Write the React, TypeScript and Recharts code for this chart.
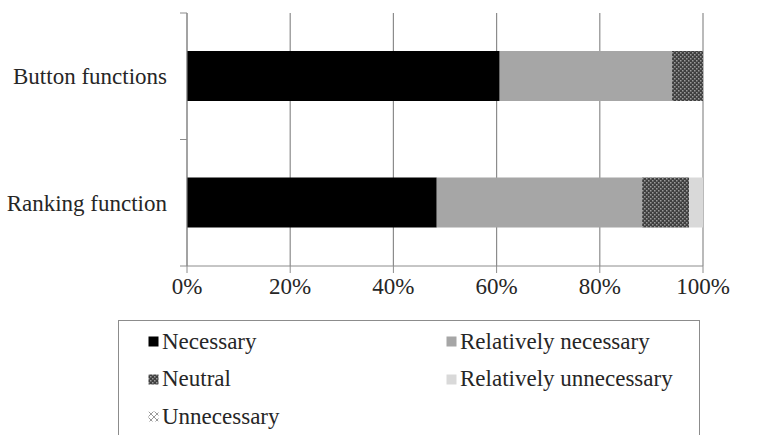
import { Bar, BarChart, CartesianGrid, XAxis, YAxis } from 'recharts';

const categories = ['Button functions', 'Ranking function'];
const necessary = [60.6, 48.4];
const relativelyNecessary = [33.4, 39.8];
const neutral = [6.0, 9.1];
const relativelyUnnecessary = [0, 2.7];
const unnecessary = [0, 0];
const xTicks = [0, 20, 40, 60, 80, 100];

const series = [
  { key: 'necessary', name: 'Necessary', values: necessary, fill: '#000000' },
  { key: 'relNec', name: 'Relatively necessary', values: relativelyNecessary, fill: '#a6a6a6' },
  { key: 'neutral', name: 'Neutral', values: neutral, fill: 'url(#neutralPat)' },
  { key: 'relUnnec', name: 'Relatively unnecessary', values: relativelyUnnecessary, fill: '#d9d9d9' },
  { key: 'unnec', name: 'Unnecessary', values: unnecessary, fill: 'url(#unnecPat)' },
];

const data = categories.map((name, i) => {
  const row: Record<string, string | number> = { name };
  series.forEach((s) => {
    row[s.key] = s.values[i];
  });
  return row;
});

const FONT = "Tinos, 'Liberation Serif', 'Times New Roman', 'Noto Serif', 'DejaVu Serif', serif";
const TEXT = '#262626';
const LINE = '#8c8c8c';

const W = 757;
const H = 435;
const MARGIN = { top: 13, right: 54, left: 0, bottom: 139 };
const X_AXIS_H = 30;
const LABEL_GAP = 20;
const BAND = (H - MARGIN.top - MARGIN.bottom - X_AXIS_H) / categories.length;

function CategoryTick(props: any) {
  const { x, y, payload, index } = props;
  const ax = x + LABEL_GAP;
  const half = BAND / 2;
  return (
    <g>
      {index === 0 && <line x1={ax - 7} x2={ax} y1={y - half} y2={y - half} stroke={LINE} />}
      <line x1={ax - 7} x2={ax} y1={y + half} y2={y + half} stroke={LINE} />
      <text x={x} y={y} dy="0.35em" textAnchor="end" fill={TEXT} fontFamily={FONT} fontSize={23}>
        {payload.value}
      </text>
    </g>
  );
}

function Patterns() {
  return (
    <defs>
      <pattern id="neutralPat" width="4" height="4" patternUnits="userSpaceOnUse">
        <rect width="4" height="4" fill="#3f3f3f" />
        <rect x="0" y="0" width="1.5" height="1.5" fill="#9a9a9a" />
        <rect x="2" y="2" width="1.5" height="1.5" fill="#9a9a9a" />
      </pattern>
      <pattern id="unnecPat" width="6" height="6" patternUnits="userSpaceOnUse">
        <rect width="6" height="6" fill="#ffffff" />
        <path d="M0 0L6 6M6 0L0 6" stroke="#9a9a9a" strokeWidth="1" />
      </pattern>
    </defs>
  );
}

function Marker({ fill }: { fill: string }) {
  return (
    <svg width={11} height={11} style={{ marginRight: 3, flex: 'none' }}>
      <Patterns />
      <rect x={0.5} y={0.5} width={10} height={10} fill={fill} />
    </svg>
  );
}

export default function App() {
  return (
    <div style={{ position: 'absolute', left: 0, top: 0, width: W, height: H, overflow: 'hidden', background: '#fff', fontFamily: FONT }}>
      <BarChart width={W} height={H} data={data} layout="vertical" margin={MARGIN} barSize={50}>
        <Patterns />
        <CartesianGrid horizontal={false} vertical stroke={LINE} strokeWidth={1.2} />
        <XAxis
          type="number"
          domain={[0, 100]}
          ticks={xTicks}
          tickFormatter={(v) => `${v}%`}
          stroke={LINE}
          tickSize={7}
          tickMargin={5}
          height={X_AXIS_H}
          tick={{ fill: TEXT, fontFamily: FONT, fontSize: 23 }}
        />
        <YAxis
          type="category"
          dataKey="name"
          width={187}
          stroke={LINE}
          tickLine={false}
          tickSize={0}
          tickMargin={LABEL_GAP}
          tick={<CategoryTick />}
        />
        {series.map((s) => (
          <Bar key={s.key} dataKey={s.key} name={s.name} stackId="a" fill={s.fill} isAnimationActive={false} />
        ))}
      </BarChart>
      <div
        style={{
          position: 'absolute',
          left: 118,
          top: 320,
          width: 582,
          height: 140,
          border: '1.5px solid #8c8c8c',
          fontFamily: FONT,
          fontSize: 23,
          color: TEXT,
          display: 'grid',
          gridTemplateColumns: '298px 284px',
          gridAutoRows: '37.5px',
          paddingTop: 2,
          boxSizing: 'border-box',
        }}
      >
        {series.map((s) => (
          <div key={s.key} style={{ display: 'flex', alignItems: 'center', paddingLeft: 29, whiteSpace: 'nowrap' }}>
            <Marker fill={s.fill} />
            <span>{s.name}</span>
          </div>
        ))}
      </div>
    </div>
  );
}
